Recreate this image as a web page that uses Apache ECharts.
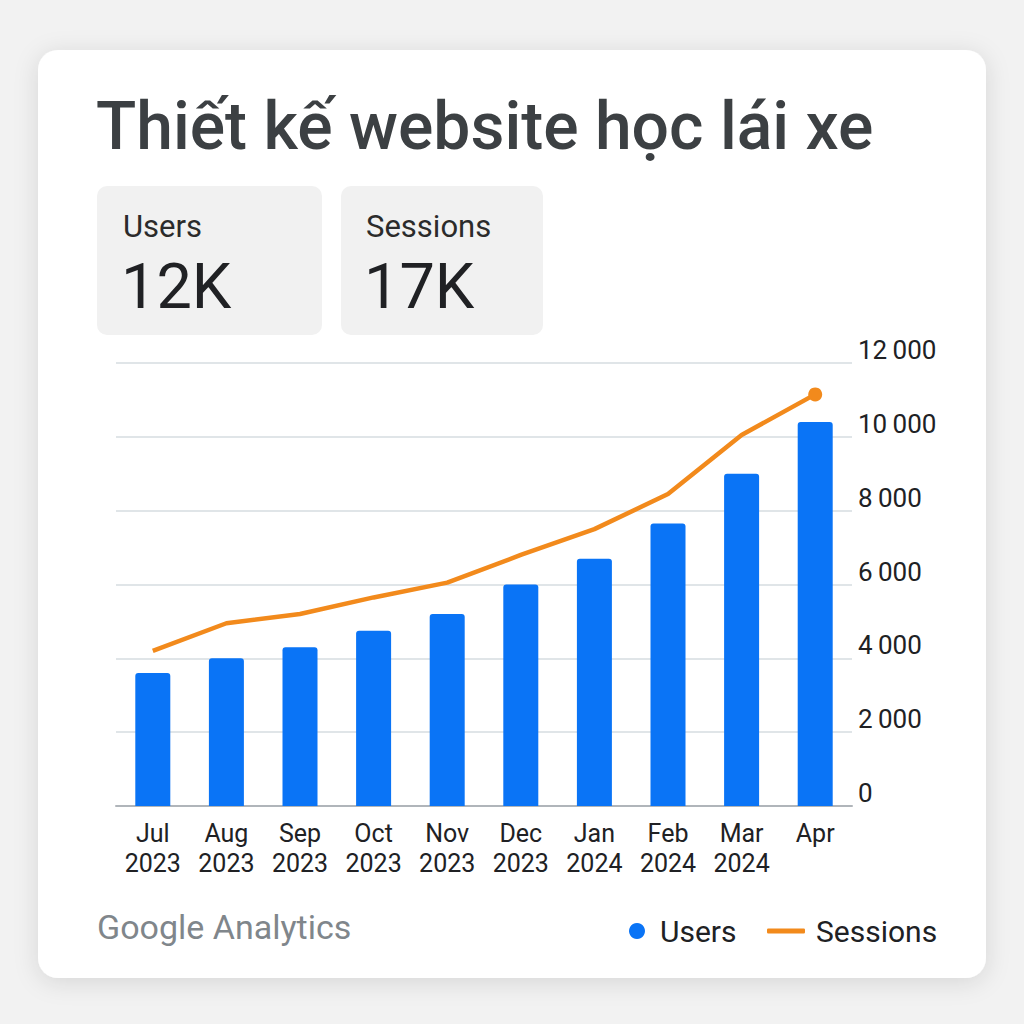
<!DOCTYPE html>
<html>
<head>
<meta charset="utf-8">
<script src="https://cdn.jsdelivr.net/npm/echarts@6/dist/echarts.min.js"></script>
<style>
html,body{margin:0;padding:0;background:#f2f2f2;}
#chart{width:1024px;height:1024px;}
</style>
</head>
<body>
<div id="chart"></div>
<script>
const categories = ['Jul\n2023','Aug\n2023','Sep\n2023','Oct\n2023','Nov\n2023','Dec\n2023','Jan\n2024','Feb\n2024','Mar\n2024','Apr'];
const usersValues = [3600, 4000, 4300, 4750, 5200, 6000, 6700, 7650, 9000, 10400];
const sessionsValues = [4200, 4950, 5200, 5650, 6050, 6800, 7500, 8450, 10050, 11150];
const yTicks = [0, 2000, 4000, 6000, 8000, 10000, 12000];
const titleText = 'Thiết kế website học lái xe';
const kpiLabels = ['Users', 'Sessions'];
const kpiValues = ['12K', '17K'];
const footerText = 'Google Analytics';

const FONT = 'Roboto, "Noto Sans", sans-serif';
const chart = echarts.init(document.getElementById('chart'), null, {renderer: 'svg'});
const lastIdx = sessionsValues.length - 1;

chart.setOption({
  backgroundColor: '#f2f2f2',
  animation: false,
  textStyle: {fontFamily: FONT},
  graphic: [
    {type: 'rect', z: -10, shape: {x: 38, y: 50, width: 948, height: 928, r: 20},
     style: {fill: '#ffffff', shadowBlur: 24, shadowColor: 'rgba(0,0,0,0.12)', shadowOffsetY: 4}},
    {type: 'text', left: 96, top: 93, z: 5,
     style: {text: titleText, fontSize: 66, fontWeight: 500, fill: '#3c4043', fontFamily: FONT}},
    {type: 'rect', z: -5, shape: {x: 97, y: 186, width: 225, height: 149, r: 10}, style: {fill: '#f1f1f1'}},
    {type: 'rect', z: -5, shape: {x: 341, y: 186, width: 202, height: 149, r: 10}, style: {fill: '#f1f1f1'}},
    {type: 'text', left: 123, top: 211, style: {text: kpiLabels[0], fontSize: 31, fill: '#2b2b2b', fontFamily: FONT}},
    {type: 'text', left: 366, top: 211, style: {text: kpiLabels[1], fontSize: 31, fill: '#2b2b2b', fontFamily: FONT}},
    {type: 'text', left: 121, top: 255, style: {text: kpiValues[0], fontSize: 63, fill: '#202124', fontFamily: FONT}},
    {type: 'text', left: 364, top: 255, style: {text: kpiValues[1], fontSize: 63, fill: '#202124', fontFamily: FONT}},
    {type: 'text', left: 97, top: 910, style: {text: footerText, fontSize: 34, fill: '#80868b', fontFamily: FONT}}
  ],
  legend: [
    {data: ['Users'], left: 624, top: 911, icon: 'circle', itemWidth: 16, itemHeight: 16, itemGap: 10,
     textStyle: {fontSize: 30, color: '#202124', fontFamily: FONT, padding: [0, 0, 0, 10]}},
    {data: ['Sessions'], left: 762, top: 911, icon: 'roundRect', itemWidth: 38, itemHeight: 5,
     textStyle: {fontSize: 30, color: '#202124', fontFamily: FONT, padding: [0, 0, 0, 6]}}
  ],
  grid: {left: 116, right: 172, top: 363, bottom: 218},
  xAxis: {
    type: 'category',
    data: categories,
    boundaryGap: true,
    axisLine: {show: true, lineStyle: {color: '#b0b5ba', width: 2}},
    axisTick: {show: false},
    axisLabel: {fontSize: 25, color: '#202124', lineHeight: 30, margin: 12, interval: 0, fontFamily: FONT}
  },
  yAxis: {
    type: 'value',
    position: 'right',
    min: yTicks[0],
    max: yTicks[yTicks.length - 1],
    interval: yTicks[1] - yTicks[0],
    axisLine: {show: false},
    axisTick: {show: false},
    splitLine: {lineStyle: {color: '#d6dce1', width: 1.5}},
    axisLabel: {
      fontSize: 26, color: '#202124', margin: 6, verticalAlign: 'bottom', fontFamily: FONT,
      formatter: v => v >= 1000 ? String(v).replace(/\B(?=(\d{3})+(?!\d))/g, '\u2009') : String(v)
    }
  },
  series: [
    {name: 'Users', type: 'bar', data: usersValues, barWidth: 35,
     itemStyle: {color: '#0a74f6', borderRadius: [3, 3, 0, 0]}},
    {name: 'Sessions', type: 'line', data: sessionsValues,
     lineStyle: {color: '#f28a1c', width: 4.5},
     itemStyle: {color: '#f28a1c'},
     symbol: 'circle',
     showAllSymbol: true,
     symbolSize: (v, p) => p.dataIndex === lastIdx ? 14 : 0,
     z: 3}
  ]
});
</script>
</body>
</html>
